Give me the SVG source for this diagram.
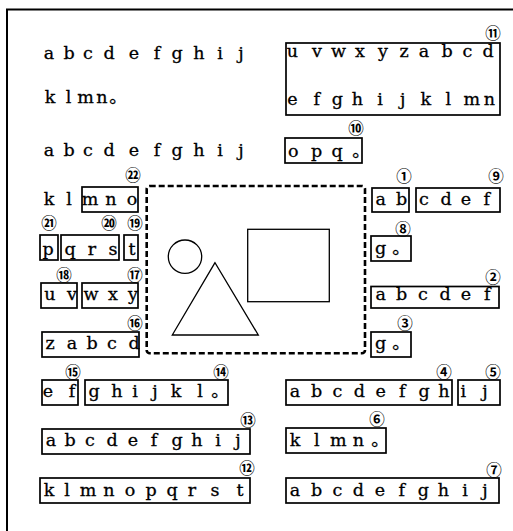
<svg xmlns="http://www.w3.org/2000/svg" width="513" height="531" viewBox="0 0 513 531">
<style>
.t{font-family:"DejaVu Serif","Noto Sans CJK JP",serif;font-size:17.5px;fill:#000;stroke:#000;stroke-width:0.3;text-anchor:middle}
.n{font-family:"Noto Sans CJK JP",sans-serif;font-size:15.5px;fill:#000;text-anchor:middle;dominant-baseline:central;font-weight:bold}
.b{fill:none;stroke:#000;stroke-width:1.7}
.s{fill:none;stroke:#000;stroke-width:1.3}
</style>
<rect width="513" height="531" fill="#fff"/>
<path d="M7,531 V9.5 H513" fill="none" stroke="#000" stroke-width="2"/>

<g id="prose">
<text class="t" y="59" x="49 59 69 78.5 88 98.5 109 121.5 134 145.5 157 167 177 188 199 209.5 220 230.5 241">a b c d e f g h i j</text>
<text class="t" y="103" x="50 59 68.5 77 85.5 94 102 118">k l m n。</text>
<text class="t" y="156" x="49 59 69 78.5 88 98.5 109 121.5 134 145.5 157 167 177 188 199 209.5 220 230.5 241">a b c d e f g h i j</text>
<text class="t" y="205" x="49 59 69">k l</text>
</g>

<g id="figure">
<rect x="146.7" y="186" width="218.3" height="167.3" rx="3" fill="none" stroke="#000" stroke-width="2.6" stroke-dasharray="6 3"/>
<circle cx="185" cy="256.7" r="16.7" class="s"/>
<polygon points="215,262.7 172.3,335 258.3,335" class="s"/>
<rect x="247.7" y="229.3" width="81.6" height="72.4" class="s"/>
</g>

<g id="n11">
<rect class="b" x="286" y="43" width="214" height="72"/>
<text class="t" y="57" x="292.5 305 317 327.5 338.5 349 360 371.5 383 393.5 404 414 424 435.5 447 457 467.5 478 488">u v w x y z a b c d</text>
<text class="t" y="105" x="292.5 304.5 316.7 327 337.3 347.3 357.3 368.6 380 391.3 402.7 414.2 425.7 437 448.3 460 471.7 480.5 489.3">e f g h i j k l m n</text>
<text class="n" x="493" y="32">⑪</text>
</g>
<g id="n10">
<rect class="b" x="285" y="138" width="77" height="25"/>
<text class="t" y="157" x="293.3 305 316.7 327 337 361">o p q。</text>
<text class="n" x="356" y="127">⑩</text>
</g>
<g id="n1">
<rect class="b" x="372" y="188" width="37" height="24"/>
<text class="t" y="205" x="380.7 391 401.7">a b</text>
<text class="n" x="404" y="175">①</text>
</g>
<g id="n9">
<rect class="b" x="416" y="188" width="84" height="24"/>
<text class="t" y="205" x="424 435 446 456 466 476.5 486.7">c d e f</text>
<text class="n" x="496" y="175">⑨</text>
</g>
<g id="n8">
<rect class="b" x="371" y="236" width="40" height="25"/>
<text class="t" y="254" x="380.7 401">g。</text>
<text class="n" x="403" y="228">⑧</text>
</g>
<g id="n2">
<rect class="b" x="371" y="286.5" width="128" height="21.5"/>
<text class="t" y="300" x="380.7 391 401.7 412.5 423 434 445 455.5 466 476.5 487.3">a b c d e f</text>
<text class="n" x="493" y="276">②</text>
</g>
<g id="n3">
<rect class="b" x="371" y="332" width="40" height="25"/>
<text class="t" y="349" x="380.7 401">g。</text>
<text class="n" x="405" y="322">③</text>
</g>
<g id="n4">
<rect class="b" x="286" y="380" width="166" height="25"/>
<text class="t" y="397" x="295 306 316.7 327 337.3 348.3 359.3 370 380.7 391.5 402.3 413 424 434 444">a b c d e f g h</text>
<text class="n" x="444" y="371">④</text>
</g>
<g id="n5">
<rect class="b" x="458" y="380" width="42" height="25"/>
<text class="t" y="397" x="463.3 474 485">i j</text>
<text class="n" x="493" y="371">⑤</text>
</g>
<g id="n6">
<rect class="b" x="286" y="428" width="100" height="25"/>
<text class="t" y="446" x="295 306 316.7 327.5 338.3 348.3 358.3 380">k l m n。</text>
<text class="n" x="377" y="418">⑥</text>
</g>
<g id="n7">
<rect class="b" x="286" y="478" width="213" height="25"/>
<text class="t" y="496" x="295 306 316.7 327 337.3 348 358.3 369 380 391 401.7 412.5 423.3 433.3 443.3 454 465 475 485">a b c d e f g h i j</text>
<text class="n" x="494" y="469">⑦</text>
</g>
<g id="n12">
<rect class="b" x="40" y="478" width="210" height="25"/>
<text class="t" y="496" x="49 58 67 77.5 88 98.5 109 119.5 130 140.5 151 161.5 172 182 192 203.5 215 227.5 240">k l m n o p q r s t</text>
<text class="n" x="247" y="467">⑫</text>
</g>
<g id="n13">
<rect class="b" x="42" y="429" width="208" height="25"/>
<text class="t" y="446" x="51 60.5 70 80 90 101 112 122.5 133 143.5 154 165.5 177 187 197 207.5 218 228 238">a b c d e f g h i j</text>
<text class="n" x="248" y="419">⑬</text>
</g>
<g id="n14">
<rect class="b" x="85" y="380" width="143" height="25"/>
<text class="t" y="397" x="94 105.5 117 126 135 145 155 165.5 176 188 200 220">g h i j k l。</text>
<text class="n" x="221" y="370.5">⑭</text>
</g>
<g id="n15">
<rect class="b" x="42" y="380" width="36" height="25"/>
<text class="t" y="397" x="48 60 72">e f</text>
<text class="n" x="73" y="371">⑮</text>
</g>
<g id="n16">
<rect class="b" x="42" y="332" width="97" height="25"/>
<text class="t" y="349" x="50 61 72 82 92 102 112 123 134">z a b c d</text>
<text class="n" x="135" y="322">⑯</text>
</g>
<g id="n17">
<rect class="b" x="82" y="283" width="56" height="25"/>
<text class="t" y="300" x="91 102 113 123 133">w x y</text>
<text class="n" x="135" y="274">⑰</text>
</g>
<g id="n18">
<rect class="b" x="41" y="283" width="36" height="25"/>
<text class="t" y="300" x="50 61 72">u v</text>
<text class="n" x="64" y="273.5">⑱</text>
</g>
<g id="n19">
<rect class="b" x="124" y="235" width="14" height="25"/>
<text class="t" y="255" x="132">t</text>
<text class="n" x="135" y="222">⑲</text>
</g>
<g id="n20">
<rect class="b" x="61" y="235" width="58" height="25"/>
<text class="t" y="255" x="70 81 92 102 113">q r s</text>
<text class="n" x="109" y="222">⑳</text>
</g>
<g id="n21">
<rect class="b" x="40" y="235" width="18" height="25"/>
<text class="t" y="255" x="48">p</text>
<text class="n" x="49" y="222">㉑</text>
</g>
<g id="n22">
<rect class="b" x="82" y="187" width="56" height="25"/>
<text class="t" y="205" x="90 100.5 111 121.5 132">m n o</text>
<text class="n" x="133" y="174">㉒</text>
</g>
</svg>
